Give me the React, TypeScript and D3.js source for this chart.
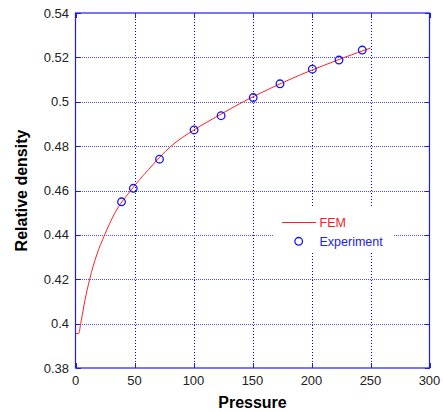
import React, { useEffect, useRef } from "react";
import * as d3 from "d3";

// FEM curve
const femPressure = [0, 2.7, 4.4, 8, 12, 18, 24.7, 33, 46.8, 62, 81, 100.4, 121, 142.2, 165, 190, 210, 228, 250];
const femDensity = [0.3955, 0.3955, 0.4, 0.4105, 0.42, 0.431, 0.44, 0.4495, 0.46, 0.4695, 0.48, 0.4873, 0.4937, 0.5, 0.506, 0.512, 0.5163, 0.52, 0.5242];

// experiment points
const expPressure = [39, 49, 71.2, 100.5, 123.4, 150.6, 173.3, 200.7, 223.3, 243];
const expDensity = [0.4549, 0.461, 0.4741, 0.4873, 0.4937, 0.5019, 0.5081, 0.5147, 0.5188, 0.5233];

const xTicks = [0, 50, 100, 150, 200, 250, 300];
const yTicks = [0.38, 0.4, 0.42, 0.44, 0.46, 0.48, 0.5, 0.52, 0.54];

const App = () => {
  const ref = useRef<SVGSVGElement>(null);

  useEffect(() => {
    const width = 443,
      height = 412;
    const margin = { top: 13, right: 13.5, bottom: 44, left: 75.5 };
    const svg = d3.select(ref.current);
    svg.selectAll("*").remove();

    const x = d3.scaleLinear().domain([0, 300]).range([margin.left, width - margin.right]);
    const y = d3.scaleLinear().domain([0.38, 0.54]).range([height - margin.bottom, margin.top]);
    const font = "'Liberation Sans', Arial, sans-serif";
    const blue = "#1a1aff";

    svg.append("rect").attr("width", width).attr("height", height).attr("fill", "#fff");

    // grid
    const grid = svg.append("g").attr("stroke-width", 1).attr("shape-rendering", "crispEdges");
    xTicks.slice(1, -1).forEach((t) => {
      const px = Math.round(x(t)) + 0.5;
      grid
        .append("line")
        .attr("x1", px)
        .attr("x2", px)
        .attr("y1", y(0.54))
        .attr("y2", y(0.38))
        .attr("stroke", "#0000ff")
        .attr("stroke-dasharray", "1,2");
    });
    yTicks.slice(1, -1).forEach((t) => {
      const py = Math.round(y(t)) + 0.5;
      grid
        .append("line")
        .attr("x1", x(0))
        .attr("x2", x(300))
        .attr("y1", py)
        .attr("y2", py)
        .attr("stroke", "#4a4aff")
        .attr("stroke-dasharray", "1,1");
    });

    // ticks on all four sides
    const tk = svg.append("g").attr("stroke", blue).attr("stroke-width", 1).attr("shape-rendering", "crispEdges");
    xTicks.forEach((t) => {
      const px = Math.round(x(t)) + 0.5;
      tk.append("line").attr("x1", px).attr("x2", px).attr("y1", y(0.38)).attr("y2", y(0.38) - 5);
      tk.append("line").attr("x1", px).attr("x2", px).attr("y1", y(0.54)).attr("y2", y(0.54) + 5);
    });
    yTicks.forEach((t) => {
      const py = Math.round(y(t)) + 0.5;
      tk.append("line").attr("x1", x(0)).attr("x2", x(0) + 5).attr("y1", py).attr("y2", py);
      tk.append("line").attr("x1", x(300)).attr("x2", x(300) - 5).attr("y1", py).attr("y2", py);
    });

    // legend background
    svg.append("rect").attr("x", 274).attr("y", 207).attr("width", 120).attr("height", 46).attr("fill", "#fff");

    // FEM line
    const pts: [number, number][] = femPressure.map((p, i) => [p, femDensity[i]]);
    const line = d3
      .line<[number, number]>()
      .x((d) => x(d[0]))
      .y((d) => y(d[1]))
      .curve(d3.curveMonotoneX);
    svg.append("path").attr("d", line(pts)).attr("fill", "none").attr("stroke", "#ff2020").attr("stroke-width", 1);

    // experiment circles
    svg
      .append("g")
      .selectAll("circle")
      .data(expPressure.map((p, i) => [p, expDensity[i]]))
      .join("circle")
      .attr("cx", (d) => x(d[0]))
      .attr("cy", (d) => y(d[1]))
      .attr("r", 3.8)
      .attr("fill", "none")
      .attr("stroke", "#1515ee")
      .attr("stroke-width", 1.3);

    // frame
    svg
      .append("rect")
      .attr("x", x(0))
      .attr("y", y(0.54))
      .attr("width", x(300) - x(0))
      .attr("height", y(0.38) - y(0.54))
      .attr("fill", "none")
      .attr("stroke", blue)
      .attr("stroke-width", 1.2);

    // tick labels
    svg
      .append("g")
      .selectAll("text")
      .data(xTicks)
      .join("text")
      .attr("x", (d) => x(d))
      .attr("y", 385)
      .attr("text-anchor", "middle")
      .attr("font-family", font)
      .attr("font-size", 13)
      .attr("fill", "#222")
      .text((d) => d);
    svg
      .append("g")
      .selectAll("text")
      .data(yTicks)
      .join("text")
      .attr("x", 69)
      .attr("y", (d) => y(d) + 4.5)
      .attr("text-anchor", "end")
      .attr("font-family", font)
      .attr("font-size", 13)
      .attr("fill", "#222")
      .text((d) => d3.format("")(+d.toFixed(2)));

    // axis titles
    svg
      .append("text")
      .attr("x", (x(0) + x(300)) / 2)
      .attr("y", 408)
      .attr("text-anchor", "middle")
      .attr("font-family", font)
      .attr("font-size", 16)
      .attr("font-weight", "bold")
      .text("Pressure");
    svg
      .append("text")
      .attr("transform", "translate(27," + (y(0.38) + y(0.54)) / 2 + ") rotate(-90)")
      .attr("text-anchor", "middle")
      .attr("font-family", font)
      .attr("font-size", 16)
      .attr("font-weight", "bold")
      .text("Relative density");

    // legend
    svg.append("line").attr("x1", 282).attr("x2", 316).attr("y1", 222.5).attr("y2", 222.5).attr("stroke", "#ff2020");
    svg
      .append("text")
      .attr("x", 319.5)
      .attr("y", 227)
      .attr("font-family", font)
      .attr("font-size", 12.5)
      .attr("fill", "#ee2222")
      .text("FEM");
    svg
      .append("circle")
      .attr("cx", 298.7)
      .attr("cy", 241.3)
      .attr("r", 3.8)
      .attr("fill", "none")
      .attr("stroke", "#1515ee")
      .attr("stroke-width", 1.3);
    svg
      .append("text")
      .attr("x", 319.5)
      .attr("y", 245.5)
      .attr("font-family", font)
      .attr("font-size", 12.5)
      .attr("fill", "#2222ee")
      .text("Experiment");
  }, []);

  return (
    <div style={{ position: "absolute", left: 0, top: 0 }}>
      <svg ref={ref} width={443} height={412} style={{ display: "block" }}></svg>
    </div>
  );
};

export default App;
